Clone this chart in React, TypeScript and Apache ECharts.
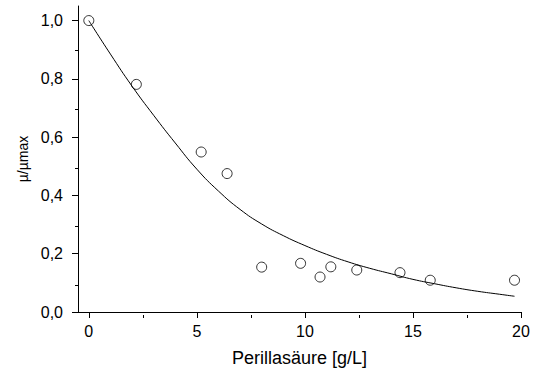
import React, { useEffect, useRef } from "react";
import * as echarts from "echarts";

// Measured data points (Perillasäure [g/L] vs µ/µmax)
const concentration = [0, 2.2, 5.2, 6.4, 8.0, 9.8, 10.7, 11.2, 12.4, 14.4, 15.8, 19.7];
const growth = [1.0, 0.781, 0.549, 0.475, 0.154, 0.167, 0.12, 0.155, 0.144, 0.135, 0.109, 0.109];

// Fitted curve
const fitX = [0, 1, 2, 3, 4, 5, 6, 7, 8, 9, 10, 11, 12, 13, 14, 15, 16, 17, 18, 19, 19.7];
const fitY = [1.0, 0.885, 0.775, 0.675, 0.58, 0.49, 0.415, 0.352, 0.302, 0.262, 0.228, 0.198, 0.172, 0.15, 0.131, 0.112, 0.097, 0.083, 0.071, 0.061, 0.054];

// Tick values
const xMajor = [0, 5, 10, 15, 20];
const xMinor = [2.5, 7.5, 12.5, 17.5];
const yMajor = [0, 0.2, 0.4, 0.6, 0.8, 1.0];
const yMinor = [0.1, 0.3, 0.5, 0.7, 0.9];

const FONT = "Liberation Sans, Arial, sans-serif";

export default function App() {
  const ref = useRef<HTMLDivElement>(null);
  useEffect(() => {
    if (!ref.current) return;
    const chart = echarts.init(ref.current, null, { renderer: "svg" });
    const axisLine = { show: true, onZero: false, lineStyle: { color: "#000", width: 1 } };
    const xBase = { type: "value", min: -0.5, max: 20, position: "bottom", splitLine: { show: false } };
    const yBase = { type: "value", min: 0, max: 1.05, position: "left", splitLine: { show: false } };
    const gridBox = { left: 78, right: 17, top: 6, bottom: 57 };
    chart.setOption({
      animation: false,
      textStyle: { fontFamily: FONT },
      grid: [gridBox, { ...gridBox }],
      xAxis: [
        {
          ...xBase,
          gridIndex: 0,
          axisLine,
          axisTick: { show: true, inside: false, length: 6, customValues: xMajor, lineStyle: { color: "#000" } },
          axisLabel: {
            show: true,
            customValues: xMajor,
            margin: 11,
            color: "#000",
            fontSize: 16,
            fontFamily: FONT,
          },
          name: "Perillasäure [g/L]",
          nameLocation: "middle",
          nameGap: 37,
          nameTextStyle: { color: "#000", fontSize: 18, fontFamily: FONT },
        },
        {
          ...xBase,
          gridIndex: 1,
          axisLine: { show: false, onZero: false },
          axisTick: { show: true, inside: false, length: 3, customValues: xMinor, lineStyle: { color: "#000" } },
          axisLabel: { show: false },
        },
      ],
      yAxis: [
        {
          ...yBase,
          gridIndex: 0,
          axisLine,
          axisTick: { show: true, inside: false, length: 6, customValues: yMajor, lineStyle: { color: "#000" } },
          axisLabel: {
            show: true,
            customValues: yMajor,
            margin: 15,
            color: "#000",
            fontSize: 16,
            fontFamily: FONT,
            formatter: (v: number) => v.toFixed(1).replace(".", ","),
          },
          name: "µ/µmax",
          nameLocation: "middle",
          nameGap: 46,
          nameRotate: 90,
          nameTextStyle: { color: "#000", fontSize: 14, fontFamily: FONT },
        },
        {
          ...yBase,
          gridIndex: 1,
          axisLine: { show: false, onZero: false },
          axisTick: { show: true, inside: false, length: 3, customValues: yMinor, lineStyle: { color: "#000" } },
          axisLabel: { show: false },
        },
      ],
      series: [
        {
          type: "line",
          xAxisIndex: 0,
          yAxisIndex: 0,
          data: fitX.map((x, i) => [x, fitY[i]]),
          showSymbol: false,
          symbol: "none",
          smooth: true,
          lineStyle: { color: "#000", width: 1 },
          z: 2,
        },
        {
          type: "scatter",
          xAxisIndex: 0,
          yAxisIndex: 0,
          data: concentration.map((x, i) => [x, growth[i]]),
          symbol: "circle",
          symbolSize: 10,
          itemStyle: { color: "rgba(0,0,0,0)", borderColor: "#000", borderWidth: 1 },
          z: 3,
        },
      ],
    });
    return () => chart.dispose();
  }, []);
  return (
    <div
      ref={ref}
      style={{ position: "fixed", left: 0, top: 0, width: 538, height: 372, background: "#fff" }}
    />
  );
}
